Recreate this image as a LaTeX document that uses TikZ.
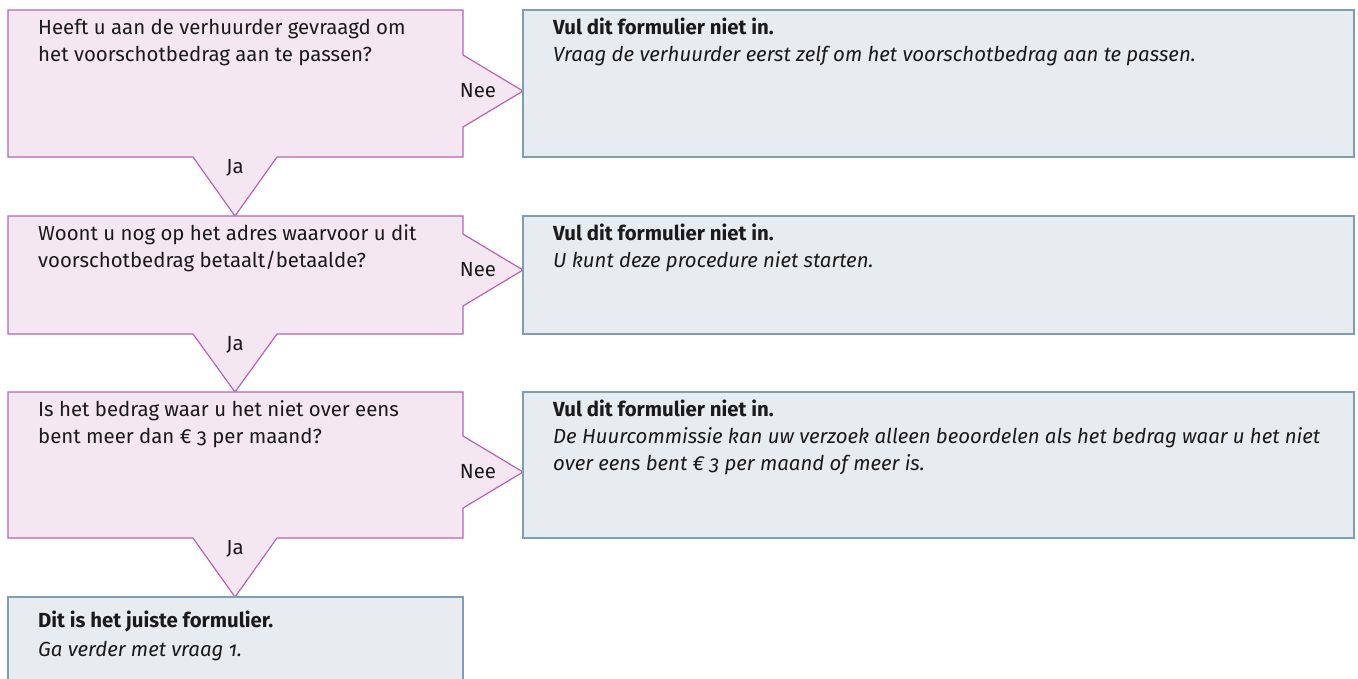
\documentclass[tikz,border=0pt]{standalone}
\usepackage{fontspec}
\setmainfont{Fira Sans}[Numbers=OldStyle]
\begin{document}
\begin{tikzpicture}[x=1pt,y=-1pt]
\definecolor{pinkfill}{HTML}{F4E7F2}
\definecolor{pinkline}{HTML}{B466B2}
\definecolor{bluefill}{HTML}{E7ECF0}
\definecolor{blueline}{HTML}{7F9EB4}
\definecolor{txt}{HTML}{1A1A1A}
\tikzset{
  qshape/.style={fill=pinkfill,draw=pinkline,line width=1.2pt,line join=miter},
  ashape/.style={fill=bluefill,draw=blueline,line width=1.8pt},
  ln/.style={anchor=base west,inner sep=0pt,text=txt,font=\fontsize{20.4}{27}\selectfont},
  bl/.style={ln,font=\fontsize{20.4}{27}\selectfont\bfseries},
  il/.style={ln,font=\fontsize{20.4}{27}\selectfont\itshape},
  lab/.style={inner sep=0pt,text=txt,font=\fontsize{20.4}{27}\selectfont},
}
\useasboundingbox (0,0) rectangle (1358,678);
\clip (0,0) rectangle (1358,678);
\fill[white] (0,0) rectangle (1358,678);
% question shapes
\draw[qshape] (8,10) -- (463,10) -- (463,55) -- (523,91) -- (463,127) -- (463,157)
  -- (277,157) -- (235,216) -- (193,157) -- (8,157) -- cycle;
\draw[qshape] (8,216) -- (463,216) -- (463,234) -- (523,270) -- (463,306) -- (463,334)
  -- (277,334) -- (235,392) -- (193,334) -- (8,334) -- cycle;
\draw[qshape] (8,392) -- (463,392) -- (463,436) -- (523,472) -- (463,508) -- (463,538)
  -- (277,538) -- (235,597) -- (193,538) -- (8,538) -- cycle;
% answer boxes
\draw[ashape] (523,10) rectangle (1354,157);
\draw[ashape] (523,216) rectangle (1354,334);
\draw[ashape] (523,392) rectangle (1354,538);
\draw[ashape] (8,700) -- (8,597) -- (463,597) -- (463,700);
% question texts
\node[ln] (q1a) at (38,34) {Heeft u aan de verhuurder gevraagd om};
\node[ln] (q1b) at (38,61) {het voorschotbedrag aan te passen?};
\node[ln] (q2a) at (38,240) {Woont u nog op het adres waarvoor u dit};
\node[ln] (q2b) at (38,267) {voorschotbedrag betaalt/betaalde?};
\node[ln] (q3a) at (38,416) {Is het bedrag waar u het niet over eens};
\node[ln] (q3b) at (38,443) {bent meer dan € 3 per maand?};
% labels
\node[lab] (nee1) at (478,91) {Nee};
\node[lab] (nee2) at (478,270) {Nee};
\node[lab] (nee3) at (478,472) {Nee};
\node[lab] (ja1) at (235,168) {Ja};
\node[lab] (ja2) at (235,345) {Ja};
\node[lab] (ja3) at (235,549) {Ja};
% answer texts
\node[bl] (a1a) at (553,34) {Vul dit formulier niet in.};
\node[il] (a1b) at (553,61) {Vraag de verhuurder eerst zelf om het voorschotbedrag aan te passen.};
\node[bl] (a2a) at (553,240) {Vul dit formulier niet in.};
\node[il] (a2b) at (553,267) {U kunt deze procedure niet starten.};
\node[bl] (a3a) at (553,416) {Vul dit formulier niet in.};
\node[il] (a3b) at (553,443) {De Huurcommissie kan uw verzoek alleen beoordelen als het bedrag waar u het niet};
\node[il] (a3c) at (553,470) {over eens bent € 3 per maand of meer is.};
\node[bl] (a4a) at (38,627) {Dit is het juiste formulier.};
\node[il] (a4b) at (38,656) {Ga verder met vraag 1.};
\end{tikzpicture}
\end{document}
